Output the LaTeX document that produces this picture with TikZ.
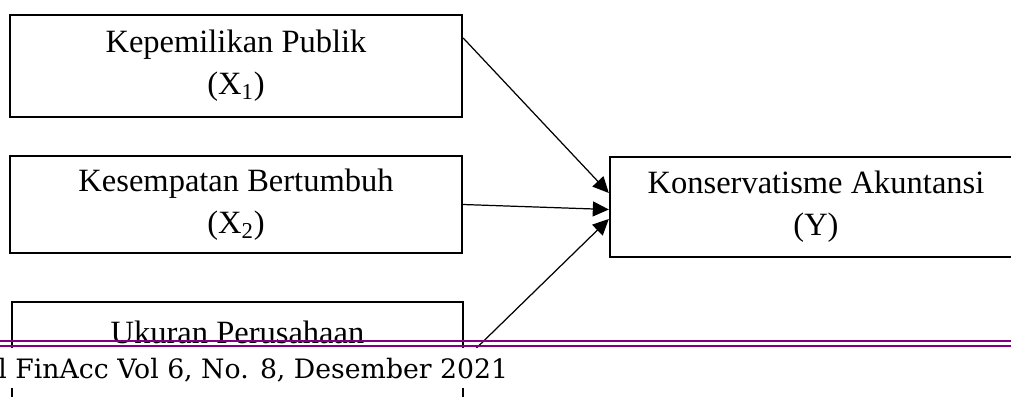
\documentclass[tikz,border=0pt]{standalone}
\usepackage{fontspec}
\setmainfont{Liberation Serif}
\newfontfamily\journalfont{DejaVu Serif}
\usetikzlibrary{arrows.meta}
\definecolor{headerpurple}{RGB}{128,0,128}
\tikzset{
  varbox/.style={draw, line width=1.4pt, align=center, inner sep=0pt,
    font=\fontsize{18.5}{24}\selectfont},
  link/.style={-{Triangle[length=0.32cm,width=0.3cm]}, line width=0.7pt}
}
\begin{document}
\begin{tikzpicture}[x=0.02cm,y=-0.02cm]
\clip (0,0) rectangle (1011,396);
\node [varbox, minimum width=9.04cm, minimum height=2.04cm] (x1) at (236,66) {Kepemilikan Publik\\(X\textsubscript{1})};
\node [varbox, minimum width=9.04cm, minimum height=1.94cm] (x2) at (236,204.5) {Kesempatan Bertumbuh\\(X\textsubscript{2})};
\node [varbox, minimum width=9.02cm, minimum height=2.04cm] (x3) at (237.5,353) {Ukuran Perusahaan\\[-8pt]\strut};
\node [varbox, minimum width=8.24cm, minimum height=2cm] (y) at (816,207) {Konservatisme Akuntansi\\(Y)};
\draw [link] ([yshift=0.56cm]x1.east) -- ([yshift=0.28cm]y.west);
\draw [link] (x2.east) -- ([yshift=-0.05cm]y.west);
\draw [link] ([yshift=-0.14cm]x3.east) -- ([yshift=-0.24cm]y.west);
\fill [white] (0,347.5) rectangle (1011,388);
\draw [headerpurple, line width=1.3pt] (0,341) -- (1011,341);
\draw [headerpurple, line width=1.3pt] (0,346) -- (1011,346);
\node [anchor=base west, inner sep=0pt, font=\journalfont\fontsize{15.2}{18}\selectfont] (journal) at (-2,378) {l FinAcc Vol 6, No. 8, Desember 2021};
\end{tikzpicture}
\end{document}
